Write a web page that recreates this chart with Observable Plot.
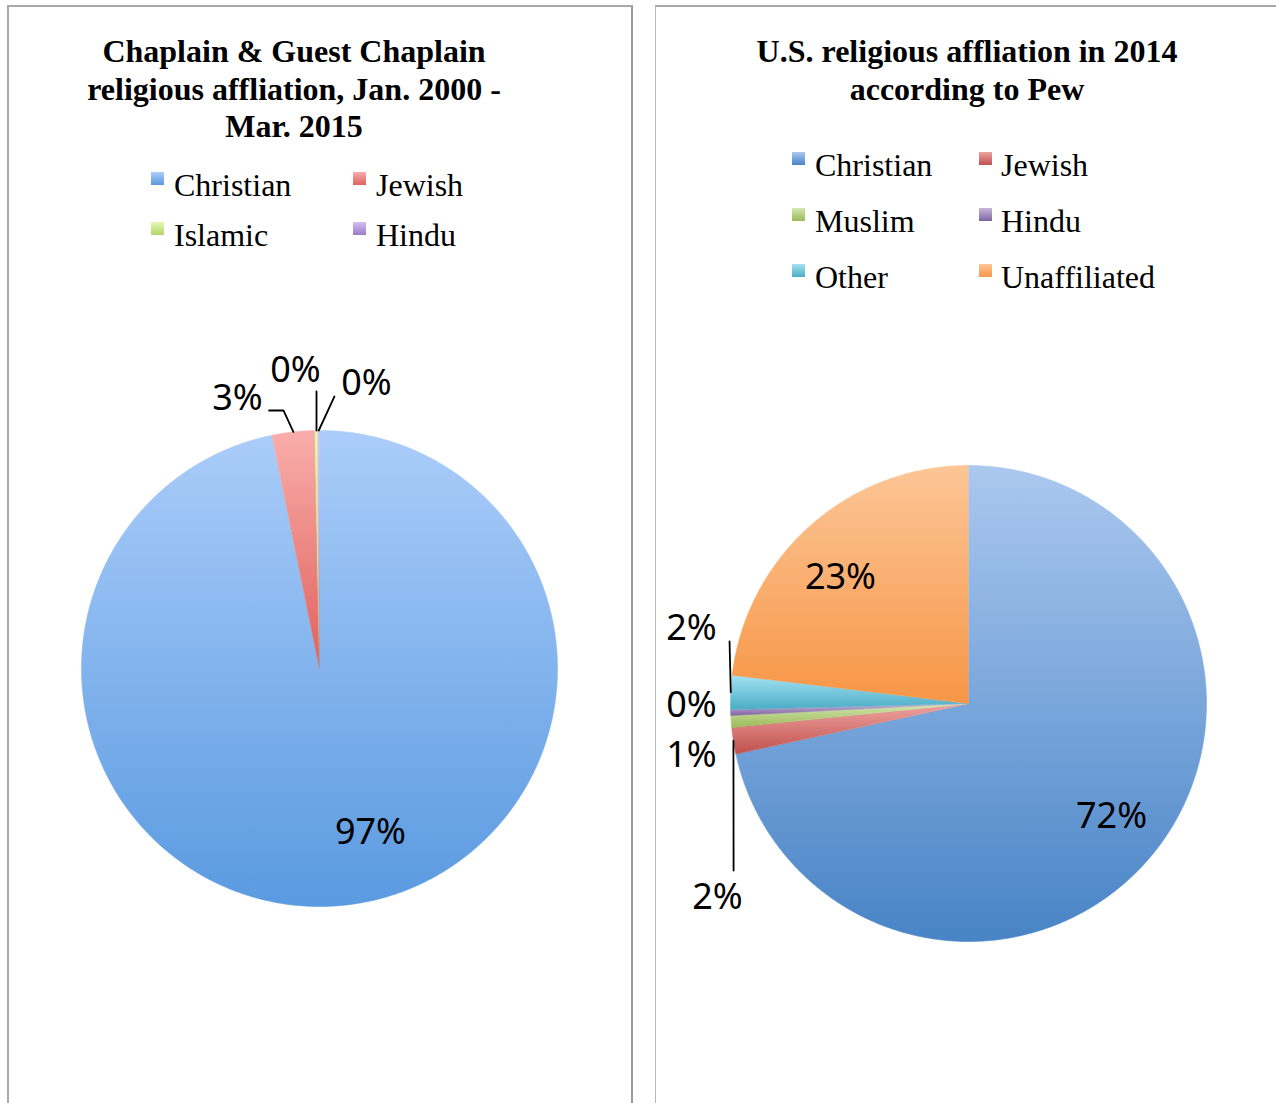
<!DOCTYPE html>
<html>
<head>
<meta charset="utf-8">
<script src="https://cdn.jsdelivr.net/npm/d3@7"></script>
<script src="https://cdn.jsdelivr.net/npm/@observablehq/plot@0.6"></script>
<style>
  body { margin: 0; background: #fff; }
  #root { position: relative; width: 1276px; height: 1103px; overflow: hidden;
          font-family: "Liberation Serif", "Times New Roman", serif; color: #000; }
  .panel { position: absolute; top: 5px; height: 1200px; box-sizing: border-box; }
  #p1 { left: 7px; width: 626px; border-left: 2px solid #a8a8a8; border-top: 2px solid #a8a8a8; border-right: 2px solid #9a9a9a; }
  #p2 { left: 655px; width: 700px; border-left: 1px solid #b8b8b8; border-top: 2px solid #a8a8a8; }
  .title { position: absolute; width: 600px; text-align: center; font-weight: bold; font-size: 32px; line-height: 37.5px; white-space: nowrap; }
  .lg { position: absolute; font-size: 32px; line-height: 36px; white-space: nowrap; }
  .sw { position: absolute; width: 13px; height: 13px; }
  .pie { position: absolute; }
  .pie svg { overflow: visible; }
</style>
</head>
<body>
<div id="root">
  <div class="panel" id="p1"></div>
  <div class="panel" id="p2"></div>
</div>
<script>
// ---------------- DATA ----------------
const leftTitle = ["Chaplain & Guest Chaplain", "religious affliation, Jan. 2000 -", "Mar. 2015"];
const leftCategories = ["Christian", "Jewish", "Islamic", "Hindu"];
const leftValues = [96.8, 2.9, 0.2, 0.1];

const rightTitle = ["U.S. religious affliation in 2014", "according to Pew"];
const rightCategories = ["Christian", "Jewish", "Muslim", "Hindu", "Other", "Unaffiliated"];
const rightValues = [71.6, 1.8, 0.8, 0.4, 2.3, 23.1];

// ---------------- STYLES / LAYOUT ----------------
const leftColors = {
  Christian: ["#abcdfa", "#5a9ae0"],
  Jewish: ["#f9aeab", "#e0605b"],
  Islamic: ["#e4f8b2", "#b3d56a"],
  Hindu: ["#d3bef0", "#9a7cc8"]
};
const rightColors = {
  Christian: ["#abc8ef", "#4884c6"],
  Jewish: ["#eea4a1", "#c0504d"],
  Muslim: ["#d4e7b0", "#9bbb59"],
  Hindu: ["#c6b8da", "#8064a2"],
  Other: ["#a4e3f3", "#4bacc6"],
  Unaffiliated: ["#fcc697", "#f79646"]
};

// label anchors in pie-radius units (x right, y up); leader = elbow points before the arc edge
const leftLabelLayout = {
  Christian: { at: [0.214, -0.689] },
  Jewish: { at: [-0.345, 1.134], leader: [[-0.212, 1.084], [-0.151, 1.084]] },
  Islamic: { at: [-0.101, 1.252], leader: [[-0.0126, 1.164]] },
  Hindu: { at: [0.197, 1.197], leader: [[0.063, 1.143]] }
};
const rightLabelLayout = {
  Christian: { at: [0.601, -0.475] },
  Jewish: { at: [-1.055, -0.815], leader: [[-0.987, -0.702]] },
  Muslim: { at: [-1.164, -0.218] },
  Hindu: { at: [-1.164, -0.008] },
  Other: { at: [-1.164, 0.315], leader: [[-1.004, 0.261]] },
  Unaffiliated: { at: [-0.538, 0.529] }
};

const root = document.getElementById("root");

function addTitle(lines, cx, topY) {
  const d = document.createElement("div");
  d.className = "title";
  d.style.left = (cx - 300) + "px";
  d.style.top = topY + "px";
  d.innerHTML = lines.map(l => l.replace(/&/g, "&amp;")).join("<br>");
  root.appendChild(d);
}

function addLegend(cats, colors, cols, rows) {
  cats.forEach((c, i) => {
    const col = cols[i % 2], rowY = rows[Math.floor(i / 2)];
    const sw = document.createElement("div");
    sw.className = "sw";
    sw.style.left = col.sw + "px";
    sw.style.top = (rowY - 13) + "px";
    sw.style.background = `linear-gradient(${colors[c][0]}, ${colors[c][1]})`;
    root.appendChild(sw);
    const t = document.createElement("div");
    t.className = "lg";
    t.style.left = col.text + "px";
    t.style.top = (rowY - 18) + "px";
    t.textContent = c;
    root.appendChild(t);
  });
}

function drawPie({ id, cats, values, colors, labels, left, top, width, height, cx, cy, r, shadow }) {
  const arcs = d3.pie().sort(null).value(d => d)(values);
  const pts = [];
  arcs.forEach((a, i) => {
    const n = Math.max(2, Math.ceil((a.endAngle - a.startAngle) / (Math.PI / 360)));
    pts.push({ cat: cats[i], x: 0, y: 0 });
    for (let k = 0; k <= n; k++) {
      const t = a.startAngle + (a.endAngle - a.startAngle) * k / n;
      pts.push({ cat: cats[i], x: Math.sin(t), y: Math.cos(t) });
    }
  });
  const circle = d3.range(0, 361, 2).map(d => ({ x: Math.sin(d * Math.PI / 180), y: Math.cos(d * Math.PI / 180) }));

  const textData = arcs.map((a, i) => ({
    cat: cats[i],
    label: Math.round(values[i] / d3.sum(values) * 100) + "%",
    x: labels[cats[i]].at[0],
    y: labels[cats[i]].at[1]
  }));
  const leaderPts = [];
  arcs.forEach((a, i) => {
    const L = labels[cats[i]].leader;
    if (!L) return;
    const mid = (a.startAngle + a.endAngle) / 2;
    L.forEach(p => leaderPts.push({ cat: cats[i], x: p[0], y: p[1] }));
    leaderPts.push({ cat: cats[i], x: Math.sin(mid), y: Math.cos(mid) });
  });

  const relCx = cx - left, relCy = cy - top;
  const marks = [
    Plot.line(circle, { x: "x", y: "y", fill: "#000", fillOpacity: shadow, stroke: "none", ariaLabel: "shadow" })
  ];
  cats.forEach((c, i) => {
    marks.push(Plot.line(pts.filter(p => p.cat === c), {
      x: "x", y: "y", curve: "linear",
      fill: `url(#${id}-g${i})`, stroke: `url(#${id}-g${i})`, strokeWidth: 0.6
    }));
  });
  marks.push(Plot.line(leaderPts, { x: "x", y: "y", z: "cat", stroke: "#000", strokeWidth: 1.8 }));
  marks.push(Plot.text(textData, {
    x: "x", y: "y", text: "label", fill: "#000", fontSize: 36,
    fontFamily: "'Noto Sans', 'Open Sans', sans-serif", textAnchor: "middle", lineAnchor: "middle"
  }));

  const svg = Plot.plot({
    width, height, margin: 0,
    x: { domain: [-relCx / r, (width - relCx) / r], axis: null },
    y: { domain: [-(height - relCy) / r, relCy / r], axis: null },
    marks
  });
  const defs = d3.select(svg).insert("defs", ":first-child");
  cats.forEach((c, i) => {
    const g = defs.append("linearGradient").attr("id", `${id}-g${i}`)
      .attr("x1", 0).attr("y1", 0).attr("x2", 0).attr("y2", 1);
    g.append("stop").attr("offset", "0%").attr("stop-color", colors[c][0]);
    g.append("stop").attr("offset", "100%").attr("stop-color", colors[c][1]);
  });
  d3.select(svg).selectAll("g[aria-label=shadow]")
    .style("filter", "blur(4px)").style("transform", "translate(0px, 4px)");

  const holder = document.createElement("div");
  holder.className = "pie";
  holder.style.left = left + "px";
  holder.style.top = top + "px";
  holder.appendChild(svg);
  root.appendChild(holder);
}

// ---------------- LEFT CHART ----------------
addTitle(leftTitle, 294, 33);
addLegend(leftCategories, leftColors,
  [{ sw: 151, text: 174 }, { sw: 353, text: 376 }], [185, 235]);
drawPie({
  id: "L", cats: leftCategories, values: leftValues, colors: leftColors, labels: leftLabelLayout,
  left: 9, top: 300, width: 620, height: 700, cx: 319, cy: 668, r: 238, shadow: 0.18
});

// ---------------- RIGHT CHART ----------------
addTitle(rightTitle, 967, 33);
addLegend(rightCategories, rightColors,
  [{ sw: 792, text: 815 }, { sw: 979, text: 1001 }], [165, 221, 277]);
drawPie({
  id: "R", cats: rightCategories, values: rightValues, colors: rightColors, labels: rightLabelLayout,
  left: 657, top: 300, width: 619, height: 700, cx: 968, cy: 703, r: 238, shadow: 0.4
});
</script>
</body>
</html>
